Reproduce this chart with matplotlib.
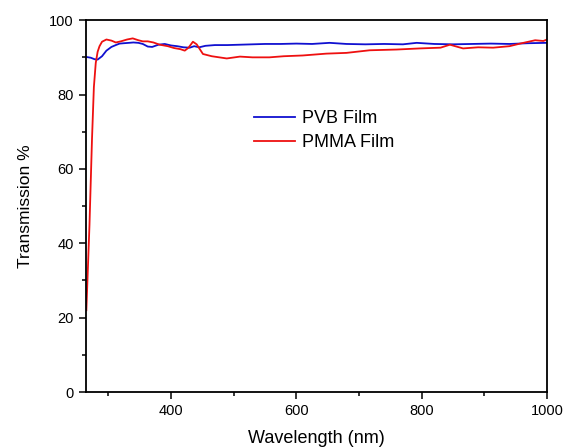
import matplotlib
matplotlib.use("Agg")
import matplotlib.pyplot as plt
from matplotlib.ticker import MultipleLocator

plt.rcParams['font.family'] = ['Liberation Sans', 'DejaVu Sans']

# PVB film transmission
pvb_wl = [265, 272, 278, 283, 290, 297, 305, 312, 318, 325, 333, 340, 348, 355,
          363, 370, 380, 390, 400, 410, 420, 430, 437, 445, 455, 470, 490, 510,
          530, 550, 575, 600, 625, 653, 680, 710, 740, 770, 792, 820, 850, 880,
          910, 940, 970, 1000]
pvb_t = [90.1, 89.9, 89.5, 89.4, 90.3, 91.8, 92.8, 93.3, 93.7, 93.8, 93.9, 94.0,
         93.9, 93.6, 92.9, 92.8, 93.4, 93.6, 93.2, 93.0, 92.7, 92.6, 93.0, 92.7,
         93.1, 93.3, 93.3, 93.4, 93.5, 93.6, 93.6, 93.7, 93.6, 93.9, 93.6, 93.5,
         93.6, 93.5, 93.9, 93.6, 93.5, 93.6, 93.7, 93.6, 93.8, 93.9]

# PMMA film transmission
pmma_wl = [265, 270, 274, 277, 280, 283, 286, 290, 297, 305, 312, 320, 330, 339,
           348, 355, 363, 372, 382, 395, 405, 415, 422, 428, 435, 441, 451, 465,
           489, 510, 530, 557, 580, 610, 648, 680, 717, 760, 797, 830, 845, 866,
           890, 914, 940, 957, 981, 994, 1000]
pmma_t = [22.0, 45.0, 68.0, 82.0, 88.5, 91.5, 93.0, 94.2, 94.8, 94.5, 94.0, 94.3,
          94.8, 95.1, 94.6, 94.3, 94.3, 94.0, 93.4, 93.0, 92.5, 92.2, 91.8, 92.6,
          94.2, 93.5, 90.9, 90.3, 89.7, 90.2, 90.0, 90.0, 90.3, 90.5, 91.0, 91.2,
          91.9, 92.1, 92.4, 92.6, 93.4, 92.4, 92.7, 92.6, 93.0, 93.7, 94.6, 94.4,
          94.8]

fig = plt.figure(figsize=(5.64, 4.48), dpi=100)
ax = fig.add_axes([0.152, 0.125, 0.818, 0.830])

ax.plot(pvb_wl, pvb_t, color='#1010d0', lw=1.3, label='PVB Film')
ax.plot(pmma_wl, pmma_t, color='#ee1010', lw=1.3, label='PMMA Film')

ax.set_xlim(264, 1000)
ax.set_ylim(0, 100)
ax.xaxis.set_major_locator(MultipleLocator(200))
ax.xaxis.set_minor_locator(MultipleLocator(100))
ax.yaxis.set_major_locator(MultipleLocator(20))
ax.yaxis.set_minor_locator(MultipleLocator(10))
ax.tick_params(which='both', direction='out', width=1.1, labelsize=10.5)
ax.tick_params(which='major', length=5)
ax.tick_params(which='minor', length=3)
for s in ax.spines.values():
    s.set_linewidth(1.3)

ax.set_xlabel('Wavelength (nm)', fontsize=13, labelpad=9)
ax.set_ylabel('Transmission %', fontsize=12.5, labelpad=12)

ax.legend(loc='center left', bbox_to_anchor=(0.364, 0.703), frameon=False,
          fontsize=13, handlelength=2.3, handletextpad=0.35, labelspacing=0.4,
          borderpad=0, borderaxespad=0)

fig.savefig('out.png', dpi=100)
